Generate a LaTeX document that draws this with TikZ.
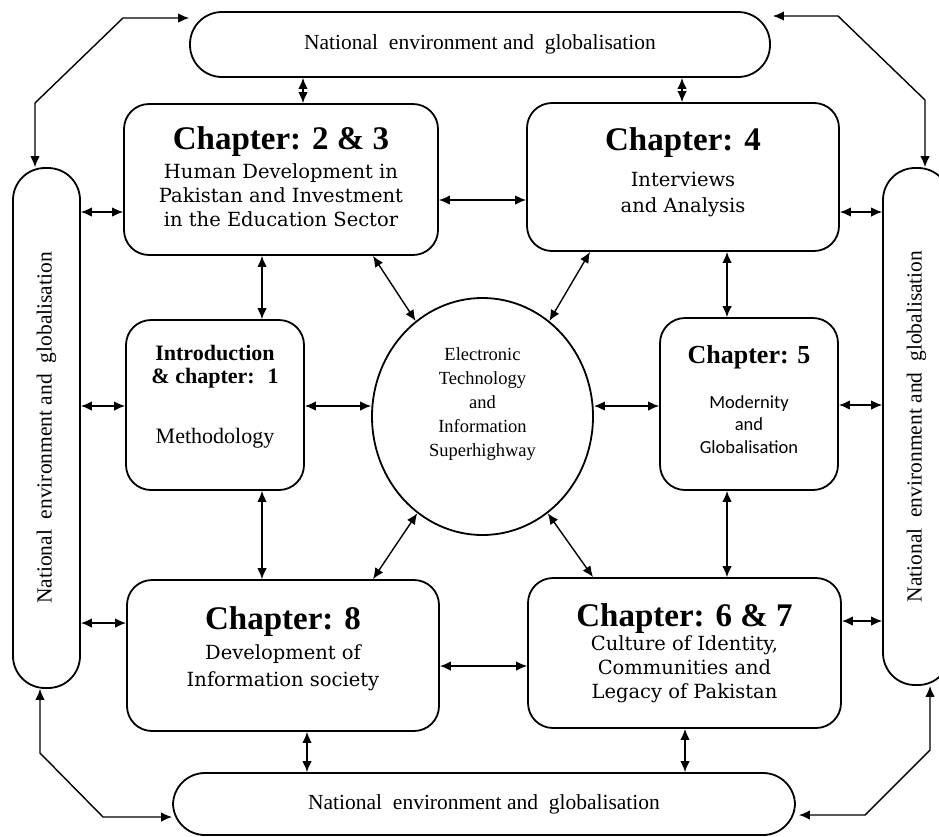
\documentclass[tikz,border=0pt]{standalone}
\usepackage{fontspec}
\setmainfont{Liberation Serif}
\newfontfamily\bodyfont{DejaVu Serif}
\newfontfamily\modfont{Carlito}
\usetikzlibrary{arrows.meta,shapes.geometric}
\newcommand{\hd}[2][33]{{\rmfamily\bfseries\fontsize{#1}{#1}\selectfont #2}}

\begin{document}
\begin{tikzpicture}[x=1pt,y=-1pt,
  >={Latex[length=11pt,width=9.5pt]},
  box/.style={draw,line width=1.8pt,rounded corners=25pt,inner sep=0pt,align=center},
  band/.style={draw,line width=1.8pt,rounded corners=32pt,inner sep=0pt,font=\fontsize{21.5}{24}\selectfont},
  link/.style={<->,line width=1.4pt}]
\useasboundingbox (0,0) rectangle (939,836);
\node[band,minimum width=580pt,minimum height=65pt] (top) at (480,44.5) {National~ environment and~ globalisation};
\node[band,minimum width=622pt,minimum height=62pt] (bot) at (484,804) {National~ environment and~ globalisation};
\node[band,minimum width=67pt,minimum height=520pt] (lb) at (46.5,428) {\rotatebox{90}{National~ environment and~ globalisation}};
\node[band,minimum width=67pt,minimum height=517pt] (rb) at (916.5,426.5) {\rotatebox{90}{National~ environment and~ globalisation}};
\node[box,minimum width=314pt,minimum height=151pt,font=\bodyfont\fontsize{19.5}{24}\selectfont] (c23) at (281,179.5)
  {\hd{Chapter: 2 \& 3}\\[5pt]Human Development in\\Pakistan and Investment\\in the Education Sector\rule[-6pt]{0pt}{6pt}};
\node[box,minimum width=312pt,minimum height=148pt,font=\bodyfont\fontsize{19.5}{26}\selectfont] (c4) at (683,177)
  {\hd{Chapter: 4}\\[10pt]Interviews\\and Analysis\rule[-14pt]{0pt}{14pt}};
\node[box,minimum width=178pt,minimum height=170pt,font=\fontsize{22}{23}\selectfont] (intro) at (215,405)
  {\textbf{Introduction}\\\textbf{\& chapter:~ 1}\\[37pt]Methodology\rule[-22pt]{0pt}{22pt}};
\node[box,minimum width=178pt,minimum height=172pt,font=\modfont\fontsize{18.5}{22.5}\selectfont] (c5) at (749,404)
  {\hd[26]{Chapter: 5}\\[22pt]Modernity\\and\\Globalisation\rule[-9pt]{0pt}{9pt}};
\node[draw,ellipse,line width=1.8pt,inner sep=0pt,minimum width=221pt,minimum height=237pt,align=center,
  font=\fontsize{18.5}{24}\selectfont] (etis) at (482.5,416.5)
  {Electronic\\Technology\\and\\Information\\Superhighway\rule[-28pt]{0pt}{28pt}};
\node[box,minimum width=312pt,minimum height=151pt,font=\bodyfont\fontsize{19.5}{27}\selectfont] (c8) at (283,655.5)
  {\hd{Chapter: 8}\\[3pt]Development of\\Information society\rule[-18pt]{0pt}{18pt}};
\node[box,minimum width=313pt,minimum height=150pt,font=\bodyfont\fontsize{19.5}{24}\selectfont] (c67) at (684.5,653)
  {\hd{Chapter: 6 \& 7}\\Culture of Identity,\\Communities and\\Legacy of Pakistan};
% bands to boxes
\draw[link] (top.south -| 303,0) -- (c23.north -| 303,0);
\draw[link] (top.south -| 682,0) -- (c4.north -| 682,0);
\draw[link] (bot.north -| 307,0) -- (c8.south -| 307,0);
\draw[link] (bot.north -| 685,0) -- (c67.south -| 685,0);
\draw[link] (lb.east |- 0,212) -- (c23.west |- 0,212);
\draw[link] (lb.east |- 0,406) -- (intro.west |- 0,406);
\draw[link] (lb.east |- 0,623) -- (c8.west |- 0,623);
\draw[link] (rb.west |- 0,212) -- (c4.east |- 0,212);
\draw[link] (rb.west |- 0,405) -- (c5.east |- 0,405);
\draw[link] (rb.west |- 0,621) -- (c67.east |- 0,621);
% bands to bands
\draw[link] ([xshift=-11.5pt]lb.north) -- (35,103) -- (123,18) -- ([yshift=26.5pt]top.west);
\draw[link] ([xshift=2pt,yshift=28.5pt]top.east) -- (838,16) -- (925,100) -- ([xshift=8.5pt]rb.north);
\draw[link] ([xshift=-6.5pt]lb.south) -- (40,753) -- (103,817) -- ([yshift=-13pt]bot.west);
\draw[link] ([xshift=3pt,yshift=-11pt]bot.east) -- (865,815) -- (930,750) -- ([xshift=13.5pt]rb.south);
% boxes
\draw[link] (c23.east |- 0,200) -- (c4.west |- 0,200);
\draw[link] (c8.east |- 0,666) -- (c67.west |- 0,666);
\draw[link] (c23.south -| 262,0) -- (intro.north -| 262,0);
\draw[link] (intro.south -| 262,0) -- (c8.north -| 262,0);
\draw[link] (c4.south -| 727,0) -- (c5.north -| 727,0);
\draw[link] (c5.south -| 727,0) -- (c67.north -| 727,0);
\draw[link] (intro.east |- 0,406) -- (etis.west |- 0,406);
\draw[link] (etis.east |- 0,406) -- (c5.west |- 0,406);
\draw[link] (c23.south -| 373,0) -- (etis.125);
\draw[link] (c4.south -| 590,0) -- (etis.55);
\draw[link] (etis.-124) -- (c8.north -| 373,0);
\draw[link] (etis.-56) -- (c67.north -| 593,0);
\end{tikzpicture}
\end{document}
